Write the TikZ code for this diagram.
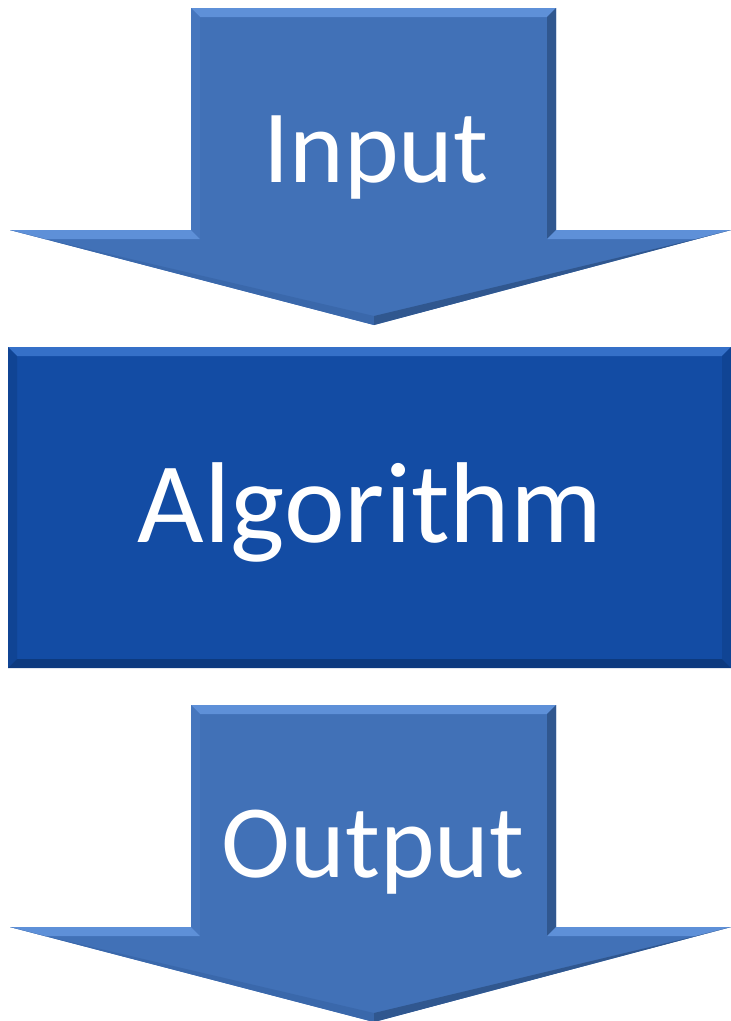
\documentclass[tikz,border=0pt]{standalone}
\usepackage{fontspec}
\setmainfont{Carlito}
\definecolor{arrowblue}{HTML}{4171B7}
\definecolor{arrowlight}{HTML}{5E90D8}
\definecolor{arrowside}{HTML}{4676BD}
\definecolor{arrowdark}{HTML}{30578F}
\definecolor{arrowdiag}{HTML}{3A68AB}
\definecolor{boxblue}{HTML}{134CA4}
\definecolor{boxlight}{HTML}{3570C8}
\definecolor{boxdark}{HTML}{0D3A7F}
\definecolor{boxside}{HTML}{104494}
\tikzset{
  bigtext/.style={text=white, anchor=base, inner sep=0pt, font=\fontsize{104}{104}\selectfont},
  boxtext/.style={text=white, anchor=base, inner sep=0pt, font=\fontsize{115}{115}\selectfont},
  pics/downarrow/.style={code={
    \fill[arrowblue] (191,0) -- (556,0) -- (556,222) -- (731,222) -- (374,317) -- (10,222) -- (191,222) -- cycle;
    \fill[arrowlight] (191,0) -- (556,0) -- (547,9) -- (200,9) -- cycle;
    \fill[arrowside] (191,0) -- (200,9) -- (200,231) -- (191,222) -- cycle;
    \fill[arrowdark] (556,0) -- (556,222) -- (547,231) -- (547,9) -- cycle;
    \fill[arrowlight] (10,222) -- (191,222) -- (200,231) -- (45,231) -- cycle;
    \fill[arrowlight] (556,222) -- (731,222) -- (696,231) -- (547,231) -- cycle;
    \fill[arrowdiag] (10,222) -- (374,317) -- (374,308) -- (45,231) -- cycle;
    \fill[arrowdark] (731,222) -- (374,317) -- (374,308) -- (696,231) -- cycle;
  }}
}
\begin{document}
\begin{tikzpicture}[x=1pt,y=-1pt]
\useasboundingbox (0,0) rectangle (731,1021);
% top arrow
\pic at (0,8) {downarrow};
\node[bigtext] (input) at (376,182) {Input};
% algorithm box
\fill[boxblue] (8,347) rectangle (731,668);
\fill[boxlight] (8,347) -- (731,347) -- (722,356) -- (17,356) -- cycle;
\fill[boxside] (8,347) -- (17,356) -- (17,659) -- (8,668) -- cycle;
\fill[boxside] (731,347) -- (722,356) -- (722,659) -- (731,668) -- cycle;
\fill[boxdark] (8,668) -- (731,668) -- (722,659) -- (17,659) -- cycle;
\node[boxtext] (algo) at (370,542) {Algorithm};
% bottom arrow
\pic at (0,705) {downarrow};
\node[bigtext] (output) at (373,877) {Output};
\end{tikzpicture}
\end{document}
